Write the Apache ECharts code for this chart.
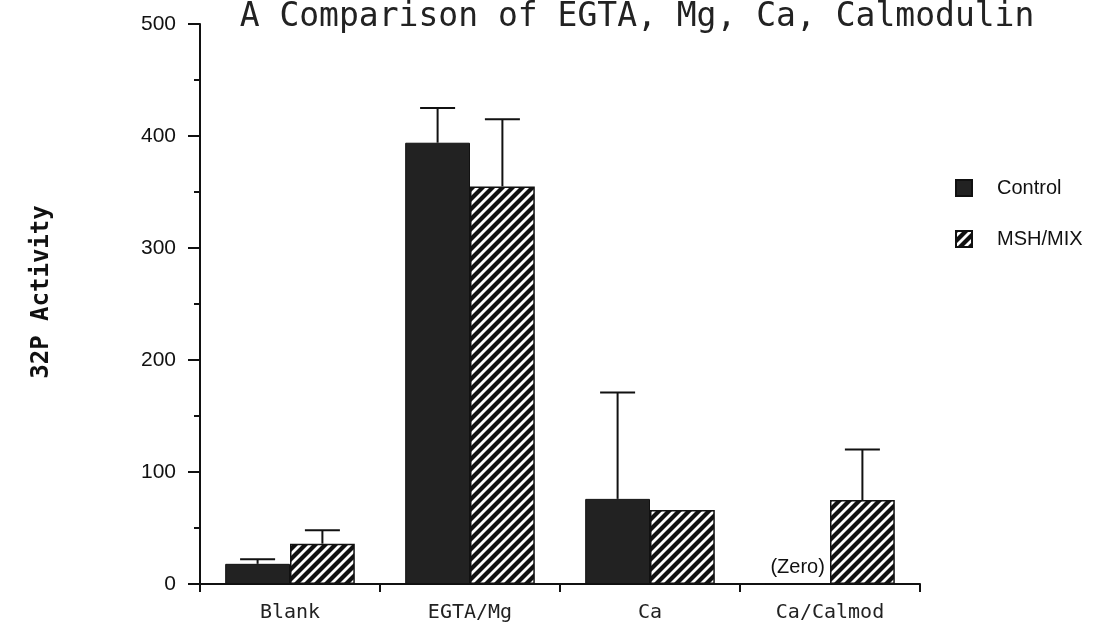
<!DOCTYPE html>
<html>
<head>
<meta charset="utf-8">
<script src="https://cdn.jsdelivr.net/npm/echarts@6/dist/echarts.min.js"></script>
<style>html,body{margin:0;padding:0;background:#fff;}#c{width:1105px;height:632px;}</style>
</head>
<body>
<div id="c"></div>
<script>
const categories = ['Blank', 'EGTA/Mg', 'Ca', 'Ca/Calmod'];
const controlValues = [18, 394, 76, 0];
const controlErrors = [4, 31, 95, 0];
const mshValues = [36, 355, 66, 75];
const mshErrors = [12, 60, 0, 45];
const yTicks = [0, 100, 200, 300, 400, 500];

// hatch pattern "/"
const s = 10;
const pc = document.createElement('canvas');
pc.width = s; pc.height = s;
const ctx = pc.getContext('2d');
ctx.fillStyle = '#fff'; ctx.fillRect(0, 0, s, s);
ctx.strokeStyle = '#111'; ctx.lineWidth = 4.2; ctx.lineCap = 'square';
for (let k = -2; k <= 2; k++) {
  ctx.beginPath();
  ctx.moveTo(k * s - s, 2 * s);
  ctx.lineTo(k * s + 2 * s, -s);
  ctx.stroke();
}
const hatch = { image: pc, repeat: 'repeat' };

const errData = [];
categories.forEach((c, i) => {
  errData.push([i, controlValues[i], controlErrors[i], -1]);
  errData.push([i, mshValues[i], mshErrors[i], 1]);
});

const chart = echarts.init(document.getElementById('c'));
chart.setOption({
  animation: false,
  backgroundColor: '#fff',
  title: {
    text: 'A Comparison of EGTA, Mg, Ca, Calmodulin',
    left: 632, textAlign: 'center', top: -4,
    textStyle: { fontFamily: 'DejaVu Sans Mono', fontSize: 33, fontWeight: 'normal', color: '#222' }
  },
  legend: {
    data: ['Control', 'MSH/MIX'],
    orient: 'vertical', left: 950, top: 173,
    itemWidth: 16, itemHeight: 16, itemGap: 31,
    icon: 'rect',
    textStyle: { fontFamily: 'Liberation Sans', fontSize: 20, color: '#111', padding: [0, 0, 0, 20] }
  },
  grid: { left: 200, right: 185, top: 24, bottom: 48 },
  xAxis: {
    type: 'category', data: categories,
    axisLine: { lineStyle: { color: '#111', width: 2 } },
    axisTick: { show: true, alignWithLabel: false, length: 8, lineStyle: { color: '#111', width: 2 } },
    axisLabel: { margin: 19, fontFamily: 'DejaVu Sans Mono', fontSize: 20, color: '#222' }
  },
  yAxis: {
    type: 'value', min: 0, max: 500, interval: 100,
    name: '32P Activity', nameLocation: 'middle', nameGap: 146, nameRotate: 90,
    nameTextStyle: { fontFamily: 'DejaVu Sans Mono', fontSize: 24, fontWeight: 'bold', color: '#111',
                     padding: [0, 0, 0, 24] },
    axisLine: { show: true, lineStyle: { color: '#111', width: 2 } },
    axisTick: { show: true, length: 12, lineStyle: { color: '#111', width: 2 } },
    minorTick: { show: true, splitNumber: 2, length: 6, lineStyle: { color: '#111', width: 2 } },
    splitLine: { show: false },
    axisLabel: {
      margin: 24, fontFamily: 'Liberation Sans', fontSize: 21, color: '#111',
      formatter: v => (yTicks.indexOf(v) >= 0 ? String(v) : '')
    }
  },
  series: [
    {
      name: 'Control', type: 'bar', barWidth: '36%', barGap: '0%',
      itemStyle: { color: '#222', borderColor: '#111', borderWidth: 1 },
      data: controlValues.map((v, i) => i === 3 ? {
        value: v,
        label: { show: true, formatter: '(Zero)', position: 'top', distance: 6,
                 fontFamily: 'Liberation Sans', fontSize: 20, color: '#111' }
      } : v)
    },
    {
      name: 'MSH/MIX', type: 'bar', barWidth: '36%', barGap: '0%',
      itemStyle: { color: hatch, borderColor: '#111', borderWidth: 1.5 },
      data: mshValues
    },
    {
      type: 'custom', z: 5, silent: true,
      data: errData,
      renderItem: function (params, api) {
        const idx = api.value(0), v = api.value(1), e = api.value(2), side = api.value(3);
        if (!e) return null;
        const band = api.size([1, 0])[0];
        const base = api.coord([idx, v]);
        const top = api.coord([idx, v + e]);
        const x = base[0] + side * band * 0.18;
        const half = 17.5;
        const st = { stroke: '#111', lineWidth: 2 };
        return {
          type: 'group',
          children: [
            { type: 'line', shape: { x1: x, y1: base[1], x2: x, y2: top[1] }, style: st },
            { type: 'line', shape: { x1: x - half, y1: top[1], x2: x + half, y2: top[1] }, style: st }
          ]
        };
      }
    }
  ]
});
</script>
</body>
</html>
